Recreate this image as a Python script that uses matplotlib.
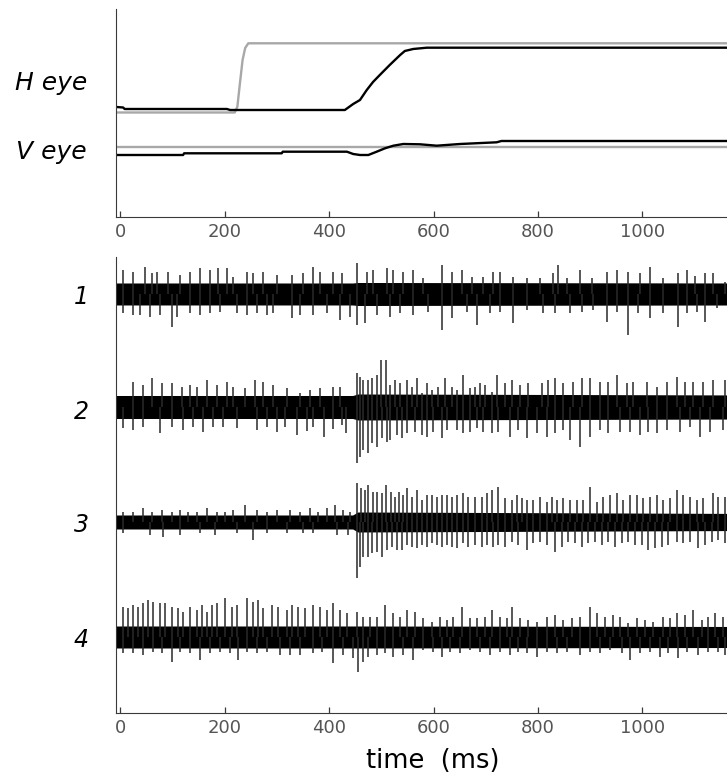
import matplotlib.pyplot as plt
import numpy as np

#%% Eye position traces (time in ms, position in arbitrary units)
h_eye_t = [-8, 5, 8, 204, 210, 430, 446, 459, 472, 484, 497, 516, 536, 545, 561, 587, 1210]
h_eye = [11.0, 10.95, 10.8, 10.8, 10.7, 10.7, 11.3, 11.7, 12.7, 13.5, 14.2, 15.2, 16.2, 16.6, 16.8, 16.93, 16.93]
h_target_t = [-8, 219, 224, 229, 234, 239, 245, 1210]
h_target = [10.45, 10.45, 11.03, 13.4, 15.7, 16.9, 17.37, 17.37]
v_eye_t = [-8, 120, 122, 309, 311, 434, 446, 459, 475, 491, 507, 523, 542, 574, 606, 651, 721, 730, 1210]
v_eye = [6.2, 6.2, 6.37, 6.37, 6.53, 6.53, 6.3, 6.2, 6.2, 6.53, 6.87, 7.13, 7.3, 7.27, 7.13, 7.3, 7.47, 7.6, 7.6]
v_target_t = [-8, 1210]
v_target = [7.03, 7.03]

#%% Unit recordings: spike times (ms), heights above / depths below the trace baseline
# unit 1
u1_up_t = [5.4, 24.6, 47.0, 59.7, 69.3, 91.7, 114.0, 133.2, 152.4, 171.5, 187.5, 203.5, 216.2, 241.8, 254.6,
           273.7, 299.3, 328.0, 350.4, 369.5, 382.3, 407.9, 423.9, 452.6, 471.8, 484.5, 510.1, 522.9, 542.0,
           561.2, 580.4, 615.5, 634.7, 653.8, 673.0, 695.3, 714.5, 727.3, 752.8, 778.4, 804.0, 829.5, 839.1,
           855.0, 880.6, 903.0, 931.7, 950.9, 973.2, 995.6, 1014.8, 1040.3, 1069.1, 1085.0, 1101.0, 1120.2,
           1136.1, 1158.5]
u1_up_h = [24, 22, 27, 21, 22, 22, 19, 22, 26, 24, 26, 26, 17, 22, 21,
           22, 19, 19, 21, 27, 22, 22, 21, 31, 22, 24, 26, 24, 22,
           24, 16, 29, 22, 24, 17, 17, 22, 22, 17, 16, 16, 21, 29,
           16, 24, 16, 22, 24, 22, 21, 27, 16, 21, 24, 18, 21,
           21, 12]
u1_dn_t = [5.4, 24.6, 37.4, 56.5, 75.7, 98.1, 107.6, 133.2, 152.4, 171.5, 190.7, 222.6, 241.8, 261.0, 280.1,
           292.9, 328.0, 344.0, 369.5, 395.1, 420.7, 439.8, 452.6, 468.6, 490.9, 516.5, 535.6, 561.2, 589.9,
           615.5, 634.7, 663.4, 682.6, 708.1, 727.3, 752.8, 778.4, 810.3, 832.7, 861.4, 883.8, 906.2, 931.7,
           950.9, 973.2, 992.4, 1014.8, 1040.3, 1069.1, 1085.0, 1104.2, 1120.2, 1142.5]
u1_dn_d = [19, 21, 21, 23, 21, 33, 23, 19, 21, 19, 18, 19, 21, 19, 21,
           19, 24, 21, 21, 19, 26, 23, 31, 29, 21, 23, 19, 21, 18,
           36, 24, 18, 31, 19, 18, 29, 16, 19, 19, 19, 18, 16, 28,
           18, 41, 19, 24, 19, 33, 19, 18, 28, 14]
# unit 2
u2_up_t = [24.6, 43.8, 59.7, 78.9, 98.1, 117.2, 133.2, 146.0, 165.1, 184.3, 203.5, 216.2, 238.6, 257.8, 273.7,
           292.9, 318.5, 344.0, 363.2, 382.3, 407.9, 420.7, 452.6, 459.0, 465.4, 475.0, 481.4, 491.0, 499.2,
           508.2, 516.5, 526.0, 535.6, 548.4, 558.0, 567.6, 577.2, 586.8, 596.4, 609.0, 621.9, 634.7, 644.3,
           657.0, 669.8, 679.4, 689.0, 698.5, 711.4, 721.0, 736.9, 749.7, 765.6, 781.6, 807.1, 819.9, 832.7,
           848.7, 867.8, 883.8, 899.8, 918.9, 934.9, 950.9, 970.0, 982.8, 1008.4, 1027.5, 1046.7, 1065.9,
           1081.8, 1097.8, 1117.0, 1136.1, 1158.5]
u2_up_h = [25, 22, 29, 24, 24, 20, 22, 20, 27, 22, 25, 20, 19, 27, 25,
           22, 19, 14, 17, 19, 20, 20, 34, 30, 27, 27, 29, 32, 47,
           47, 22, 27, 24, 27, 20, 29, 14, 24, 17, 20, 29, 20, 17,
           32, 19, 20, 24, 22, 15, 32, 24, 27, 22, 24, 24, 27, 29,
           24, 25, 29, 29, 25, 25, 32, 24, 25, 25, 20, 25, 30,
           25, 25, 25, 27, 27]
u2_dn_t = [5.4, 24.6, 43.8, 75.7, 98.1, 120.4, 139.6, 158.7, 177.9, 197.1, 222.6, 261.0, 280.1, 299.3, 315.3,
           337.6, 356.8, 369.5, 390.0, 407.9, 423.9, 432.0, 452.6, 459.0, 465.4, 475.0, 481.4, 491.0, 500.6,
           510.2, 516.5, 529.3, 538.9, 548.4, 564.4, 577.2, 586.8, 599.6, 615.6, 625.2, 644.3, 657.0, 669.8,
           682.6, 695.4, 711.4, 724.2, 746.5, 762.4, 778.4, 797.6, 816.7, 832.7, 848.7, 861.4, 880.6, 899.8,
           918.9, 934.9, 957.3, 976.4, 995.6, 1011.6, 1027.5, 1046.7, 1072.3, 1091.4, 1110.6, 1129.7, 1155.3]
u2_dn_d = [21, 23, 20, 26, 20, 23, 20, 25, 20, 20, 21, 23, 20, 25, 20,
           28, 24, 20, 30, 22, 18, 26, 56, 50, 43, 46, 36, 40, 31,
           35, 33, 28, 31, 26, 25, 28, 30, 25, 31, 23, 23, 26, 25,
           21, 25, 26, 25, 30, 23, 31, 26, 30, 26, 23, 33, 40, 30,
           23, 26, 25, 25, 28, 25, 26, 23, 25, 20, 30, 25, 23]
# unit 3
u3_up_t = [5.4, 24.6, 43.8, 59.7, 78.9, 98.1, 114.0, 130.0, 146.0, 165.1, 184.3, 200.3, 216.2, 238.6, 261.0,
           280.1, 299.3, 324.8, 344.0, 363.2, 379.1, 395.1, 411.1, 427.0, 439.8, 452.6, 460.9, 468.6, 475.0,
           484.5, 492.2, 500.5, 508.8, 517.8, 526.1, 533.7, 542.0, 549.7, 558.0, 567.6, 577.2, 588.0, 597.6,
           605.9, 615.6, 625.1, 634.7, 644.3, 657.0, 666.6, 679.4, 692.2, 701.7, 712.6, 724.1, 736.9, 749.7,
           759.2, 768.8, 778.4, 791.2, 804.0, 816.7, 826.3, 835.9, 848.7, 861.4, 874.2, 887.0, 899.8, 912.6,
           925.3, 938.1, 950.9, 963.7, 976.4, 989.2, 1002.0, 1014.8, 1027.5, 1040.3, 1053.1, 1065.9, 1078.6,
           1091.4, 1104.2, 1117.0, 1136.1, 1145.7, 1158.5]
u3_up_h = [10, 10, 14, 10, 12, 10, 12, 10, 10, 14, 10, 10, 12, 17, 12,
           10, 12, 12, 10, 14, 10, 14, 17, 12, 10, 39, 34, 32, 37,
           30, 30, 29, 37, 30, 25, 30, 27, 34, 25, 32, 22, 27, 27,
           25, 27, 27, 25, 27, 29, 25, 25, 25, 29, 32, 35, 24, 22,
           27, 24, 22, 22, 25, 20, 25, 22, 24, 22, 22, 22, 35, 20,
           25, 27, 29, 22, 27, 27, 24, 25, 27, 22, 24, 32, 27,
           25, 22, 24, 29, 25, 25]
u3_dn_t = [5.4, 56.5, 82.1, 114.0, 152.4, 181.1, 222.6, 254.6, 280.1, 318.5, 350.4, 369.5, 414.3, 436.6,
           452.6, 459.0, 465.4, 475.0, 481.4, 491.0, 500.5, 510.1, 519.7, 529.3, 538.9, 548.4, 558.0, 567.6,
           577.2, 586.8, 596.4, 605.9, 615.6, 625.1, 634.7, 644.3, 657.0, 666.6, 679.4, 692.2, 701.7, 714.5,
           724.1, 736.9, 749.7, 762.4, 778.4, 791.2, 804.0, 816.7, 832.7, 845.5, 858.2, 871.0, 883.8, 896.6,
           909.4, 922.1, 934.9, 947.7, 960.5, 973.2, 986.0, 998.8, 1011.6, 1024.3, 1037.1, 1049.9, 1065.9,
           1078.6, 1091.4, 1107.4, 1120.2, 1132.9, 1145.7, 1158.5]
u3_dn_d = [11, 13, 15, 13, 11, 13, 11, 18, 11, 11, 11, 11, 13, 13,
           56, 45, 35, 35, 31, 30, 35, 28, 25, 28, 28, 23, 25, 26,
           23, 25, 21, 23, 25, 23, 25, 26, 21, 25, 23, 25, 23, 25,
           23, 25, 20, 23, 28, 21, 20, 23, 30, 25, 20, 21, 25, 21,
           20, 23, 20, 25, 21, 20, 23, 23, 28, 26, 25, 23, 20,
           21, 20, 26, 23, 20, 18, 21]
# unit 4
u4_up_t = [5.4, 15.0, 24.6, 34.2, 43.8, 53.3, 62.9, 75.7, 85.3, 98.1, 110.8, 120.4, 133.2, 146.0, 155.6,
           165.1, 174.7, 184.3, 200.3, 213.0, 222.6, 241.8, 254.6, 264.1, 273.7, 289.7, 302.5, 318.5, 328.0,
           340.8, 353.6, 369.5, 382.3, 395.1, 407.9, 420.7, 433.4, 452.6, 465.4, 478.2, 490.9, 506.9, 522.9,
           535.6, 548.4, 564.4, 580.4, 596.3, 612.3, 625.1, 637.9, 653.8, 669.8, 682.6, 698.5, 711.3, 727.3,
           740.1, 749.7, 765.6, 781.6, 797.6, 816.7, 832.7, 848.7, 864.6, 880.6, 899.8, 912.6, 928.5, 944.5,
           957.3, 973.2, 989.2, 1005.2, 1021.1, 1040.3, 1053.1, 1065.9, 1081.8, 1097.8, 1113.8, 1126.5,
           1139.3, 1155.3]
u4_up_h = [30, 29, 32, 30, 34, 37, 35, 34, 34, 30, 29, 25, 30, 27, 32,
           25, 32, 34, 39, 30, 32, 39, 35, 37, 29, 32, 30, 27, 32,
           30, 29, 32, 30, 27, 34, 27, 24, 25, 20, 20, 20, 32, 24,
           20, 27, 25, 19, 15, 20, 17, 20, 30, 19, 19, 20, 27, 20,
           19, 30, 19, 17, 15, 20, 22, 17, 19, 20, 30, 24, 20, 22,
           20, 14, 19, 17, 15, 20, 19, 24, 22, 27, 17, 20,
           24, 20]
u4_dn_t = [5.4, 24.6, 43.8, 62.9, 78.9, 98.1, 114.0, 133.2, 152.4, 171.5, 190.7, 209.8, 225.8, 241.8, 261.0,
           280.1, 305.7, 324.8, 344.0, 369.5, 385.5, 407.9, 427.0, 446.2, 455.8, 465.4, 474.9, 490.9, 506.9,
           522.9, 542.0, 561.2, 580.4, 599.5, 615.5, 631.5, 650.6, 669.8, 689.0, 708.1, 727.3, 746.5, 762.4,
           778.4, 797.6, 816.7, 835.9, 855.0, 880.6, 899.8, 918.9, 938.1, 960.5, 976.4, 995.6, 1014.8, 1033.9,
           1049.9, 1069.1, 1085.0, 1107.4, 1126.5, 1145.7, 1158.5]
u4_dn_d = [16, 16, 18, 15, 16, 25, 15, 16, 23, 16, 15, 16, 23, 15, 16,
           15, 18, 18, 18, 16, 15, 26, 18, 21, 35, 25, 20, 18, 16,
           20, 18, 23, 13, 15, 20, 15, 16, 13, 15, 18, 15, 18, 15,
           16, 20, 15, 16, 15, 18, 15, 16, 13, 16, 23, 16, 15, 20,
           16, 21, 15, 18, 15, 15, 18]

# noise band half-width of each unit (before / after the saccade)
band_t = [-8, 445, 455, 1210]
u1_band = [11, 11, 11.5, 11]
u2_band = [11.5, 11.5, 13, 12]
u3_band = [7, 7, 10, 8.5]
u4_band = [11, 11, 11, 10.5]

unit_labels = ['1', '2', '3', '4']
xticks = [0, 200, 400, 600, 800, 1000]

#%% Figure
fig = plt.figure(figsize=(7.27, 7.75), dpi=100)
ax_eye = fig.add_axes([0.1602, 0.72, 0.8725, 0.2684])
ax_unit = fig.add_axes([0.1602, 0.08, 0.8725, 0.5884])

axis_col = '#3a3a3a'
for ax in (ax_eye, ax_unit):
    ax.set_xlim(-7.7, 1208)
    ax.spines['top'].set_visible(False)
    ax.spines['right'].set_visible(False)
    ax.spines['left'].set_color(axis_col)
    ax.spines['bottom'].set_color(axis_col)
    ax.set_yticks([])
    ax.set_xticks(xticks)
    ax.tick_params(axis='x', direction='in', length=4.5, width=0.9, color=axis_col,
                   labelsize=13, labelcolor='#555555', pad=4)

ax_eye.plot(h_target_t, h_target, color='#a8a8a8', lw=1.7)
ax_eye.plot(v_target_t, v_target, color='#a8a8a8', lw=1.7)
ax_eye.plot(h_eye_t, h_eye, color='black', lw=1.7)
ax_eye.plot(v_eye_t, v_eye, color='black', lw=1.7)
ax_eye.set_ylim(0, 20.8)

units = [
    (u1_band, u1_up_t, u1_up_h, u1_dn_t, u1_dn_d),
    (u2_band, u2_up_t, u2_up_h, u2_dn_t, u2_dn_d),
    (u3_band, u3_up_t, u3_up_h, u3_dn_t, u3_dn_d),
    (u4_band, u4_up_t, u4_up_h, u4_dn_t, u4_dn_d),
]
baselines = [419, 306, 191, 76]
for base, (band, up_t, up_h, dn_t, dn_d) in zip(baselines, units):
    band = np.array(band)
    ax_unit.fill_between(band_t, base - band, base + band, color='black', lw=0)
    ax_unit.vlines(up_t, base, base + np.array(up_h), color='#2a2a2a', lw=1.1)
    ax_unit.vlines(dn_t, base - np.array(dn_d), base, color='#2a2a2a', lw=1.1)
ax_unit.set_ylim(0, 456)
ax_unit.set_xlabel('time  (ms)', fontsize=18.5, labelpad=2)
ax_unit.xaxis.set_label_coords(0.499, -0.077)

# row labels
fig.text(51 / 727, 1 - 83 / 775, 'H eye', fontsize=18, style='italic', ha='center', va='center')
fig.text(51 / 727, 1 - 152 / 775, 'V eye', fontsize=18, style='italic', ha='center', va='center')
for lab, ypx in zip(unit_labels, [297, 412, 525, 640]):
    fig.text(81 / 727, 1 - ypx / 775, lab, fontsize=17, style='italic', ha='center', va='center')

plt.savefig('out.png', dpi=100)
